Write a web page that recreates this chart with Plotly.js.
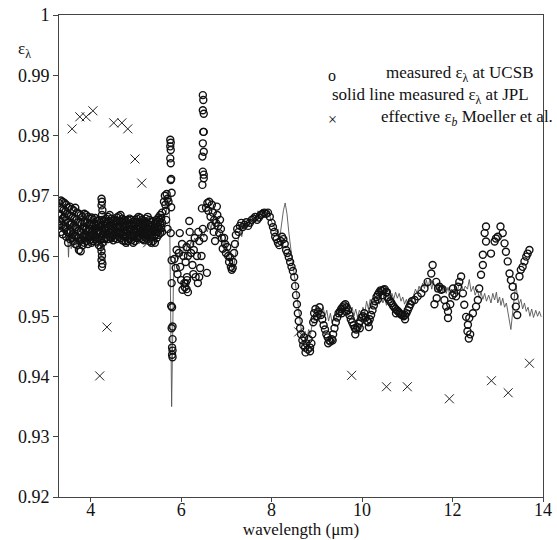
<!DOCTYPE html>
<html><head><meta charset="utf-8">
<script src="https://cdn.plot.ly/plotly-3.0.1.min.js"></script>
<style>body{margin:0;background:#fff}#chart{width:557px;height:540px}</style>
</head><body><div id="chart"></div>
<script>
// JPL measurement (solid line)
const jplX = [3.30,3.33,3.36,3.39,3.42,3.45,3.48,3.51,3.54,3.57,3.60,3.63,3.66,3.69,3.72,3.75,3.78,3.81,3.84,3.87,3.90,3.93,3.96,3.99,4.02,4.05,4.08,4.11,4.14,4.17,4.20,4.23,4.26,4.29,4.32,4.35,4.38,4.41,4.44,4.47,4.50,4.53,4.56,4.59,4.62,4.65,4.68,4.71,4.74,4.77,4.80,4.83,4.86,4.89,4.92,4.95,4.98,5.01,5.04,5.07,5.10,5.13,5.16,5.19,5.22,5.25,5.28,5.31,5.34,5.37,5.40,5.43,5.46,5.49,5.52,5.55,5.58,5.61,5.64,5.67,5.70,5.73,5.75,5.77,5.79,5.81,5.83,5.86,5.90,5.94,5.98,6.02,6.06,6.10,6.14,6.18,6.22,6.26,6.30,6.34,6.38,6.42,6.46,6.50,6.54,6.58,6.62,6.66,6.70,6.74,6.78,6.82,6.86,6.90,6.94,6.98,7.02,7.06,7.10,7.14,7.18,7.22,7.26,7.30,7.34,7.38,7.42,7.46,7.50,7.54,7.58,7.62,7.66,7.70,7.74,7.78,7.82,7.86,7.90,7.94,7.98,8.02,8.06,8.10,8.14,8.18,8.22,8.26,8.30,8.34,8.38,8.42,8.46,8.50,8.54,8.58,8.62,8.66,8.70,8.74,8.78,8.82,8.86,8.90,8.94,8.98,9.02,9.06,9.10,9.14,9.18,9.22,9.26,9.30,9.34,9.38,9.42,9.46,9.50,9.54,9.58,9.62,9.66,9.70,9.74,9.78,9.82,9.86,9.90,9.94,9.98,10.02,10.06,10.10,10.14,10.18,10.22,10.26,10.30,10.34,10.38,10.42,10.46,10.50,10.54,10.58,10.62,10.66,10.70,10.74,10.78,10.82,10.86,10.90,10.94,10.98,11.02,11.06,11.10,11.14,11.18,11.22,11.26,11.30,11.34,11.38,11.42,11.46,11.50,11.54,11.58,11.62,11.66,11.70,11.74,11.78,11.82,11.86,11.90,11.94,11.98,12.02,12.06,12.10,12.14,12.19,12.24,12.28,12.33,12.37,12.41,12.46,12.50,12.55,12.59,12.63,12.67,12.71,12.75,12.80,12.85,12.89,12.93,12.97,13.00,13.04,13.07,13.11,13.15,13.19,13.23,13.27,13.29,13.32,13.36,13.40,13.43,13.47,13.51,13.55,13.59,13.63,13.67,13.71,13.75,13.79,13.84,13.88,13.92,13.96];
const jplY = [0.9665,0.9655,0.9672,0.9640,0.9668,0.9625,0.9660,0.9598,0.9652,0.9612,0.9660,0.9620,0.9655,0.9605,0.9650,0.9618,0.9648,0.9622,0.9652,0.9612,0.9645,0.9625,0.9650,0.9618,0.9648,0.9628,0.9652,0.9620,0.9646,0.9615,0.9640,0.9600,0.9642,0.9622,0.9650,0.9618,0.9648,0.9628,0.9652,0.9622,0.9650,0.9630,0.9655,0.9625,0.9652,0.9632,0.9655,0.9628,0.9650,0.9620,0.9648,0.9615,0.9645,0.9622,0.9648,0.9618,0.9642,0.9625,0.9648,0.9620,0.9645,0.9628,0.9650,0.9622,0.9642,0.9630,0.9648,0.9628,0.9645,0.9632,0.9650,0.9635,0.9655,0.9640,0.9658,0.9645,0.9662,0.9650,0.9668,0.9672,0.9690,0.9700,0.9640,0.9500,0.9350,0.9450,0.9560,0.9590,0.9605,0.9595,0.9610,0.9600,0.9615,0.9605,0.9620,0.9612,0.9625,0.9618,0.9630,0.9622,0.9635,0.9628,0.9640,0.9632,0.9648,0.9640,0.9655,0.9645,0.9660,0.9648,0.9662,0.9650,0.9640,0.9632,0.9618,0.9625,0.9610,0.9598,0.9585,0.9575,0.9590,0.9612,0.9628,0.9640,0.9632,0.9648,0.9645,0.9655,0.9650,0.9658,0.9662,0.9670,0.9662,0.9675,0.9668,0.9678,0.9670,0.9678,0.9668,0.9675,0.9660,0.9655,0.9648,0.9640,0.9645,0.9630,0.9655,0.9675,0.9688,0.9670,0.9640,0.9610,0.9590,0.9570,0.9545,0.9520,0.9495,0.9475,0.9465,0.9475,0.9462,0.9478,0.9470,0.9488,0.9492,0.9505,0.9495,0.9512,0.9498,0.9515,0.9500,0.9510,0.9492,0.9505,0.9488,0.9500,0.9494,0.9512,0.9502,0.9518,0.9505,0.9520,0.9508,0.9522,0.9505,0.9515,0.9500,0.9512,0.9498,0.9510,0.9502,0.9515,0.9505,0.9525,0.9512,0.9528,0.9515,0.9530,0.9518,0.9532,0.9520,0.9535,0.9522,0.9530,0.9518,0.9532,0.9525,0.9538,0.9528,0.9540,0.9530,0.9538,0.9525,0.9532,0.9520,0.9528,0.9518,0.9530,0.9525,0.9535,0.9545,0.9538,0.9550,0.9542,0.9555,0.9546,0.9560,0.9548,0.9562,0.9545,0.9558,0.9540,0.9552,0.9542,0.9555,0.9540,0.9550,0.9538,0.9548,0.9535,0.9545,0.9538,0.9550,0.9540,0.9552,0.9555,0.9542,0.9550,0.9545,0.9561,0.9541,0.9550,0.9535,0.9545,0.9530,0.9540,0.9528,0.9538,0.9525,0.9535,0.9522,0.9538,0.9527,0.9540,0.9522,0.9532,0.9518,0.9530,0.9515,0.9522,0.9505,0.9490,0.9478,0.9500,0.9530,0.9555,0.9535,0.9520,0.9528,0.9512,0.9522,0.9508,0.9515,0.9500,0.9512,0.9498,0.9510,0.9500,0.9508,0.9499];

// UCSB measurement (open circles)
const ucsbX = [3.30,3.30,3.30,3.34,3.34,3.34,3.38,3.38,3.38,3.42,3.42,3.42,3.46,3.46,3.46,3.50,3.50,3.50,3.54,3.54,3.54,3.58,3.58,3.58,3.62,3.62,3.62,3.66,3.66,3.66,3.70,3.70,3.70,3.74,3.74,3.74,3.78,3.78,3.78,3.82,3.82,3.82,3.86,3.86,3.86,3.90,3.90,3.90,3.94,3.94,3.94,3.98,3.98,3.98,4.02,4.02,4.02,4.06,4.06,4.06,4.10,4.10,4.10,4.14,4.14,4.14,4.18,4.18,4.18,4.22,4.22,4.22,4.26,4.26,4.26,4.30,4.30,4.30,4.34,4.34,4.34,4.38,4.38,4.38,4.42,4.42,4.42,4.46,4.46,4.46,4.50,4.50,4.50,4.54,4.54,4.54,4.58,4.58,4.58,4.62,4.62,4.62,4.66,4.66,4.66,4.70,4.70,4.70,4.74,4.74,4.74,4.78,4.78,4.78,4.82,4.82,4.82,4.86,4.86,4.86,4.90,4.90,4.90,4.94,4.94,4.94,4.98,4.98,4.98,5.02,5.02,5.02,5.06,5.06,5.06,5.10,5.10,5.10,5.14,5.14,5.14,5.18,5.18,5.18,5.22,5.22,5.22,5.26,5.26,5.26,5.30,5.30,5.30,5.34,5.34,5.34,5.38,5.38,5.38,5.42,5.42,5.42,5.46,5.46,5.46,5.50,5.50,5.50,5.54,5.54,5.54,5.58,5.58,5.58,
4.24,4.25,4.24,4.26,4.25,4.24,4.25,4.24,4.26,4.25,
5.62,5.64,5.65,5.66,5.68,5.70,5.67,5.70,5.72,
5.76,5.77,5.76,5.77,5.76,5.77,5.78,5.77,5.79,5.78,5.77,5.79,5.79,5.78,5.80,5.79,5.81,5.81,5.80,5.81,5.80,5.81,
5.85,5.88,5.90,5.92,5.95,5.97,5.98,6.00,6.02,6.03,6.05,6.07,6.08,6.10,6.12,6.13,6.15,6.18,6.19,6.20,6.22,6.25,6.27,6.28,6.30,6.32,6.35,6.38,6.40,6.42,6.45,6.48,6.50,6.10,6.12,6.15,6.13,6.37,6.40,6.57,
6.48,6.49,6.48,6.50,6.49,6.50,6.48,6.50,6.47,6.48,6.50,6.50,6.47,6.46,
6.55,6.58,6.60,6.62,6.65,6.66,6.68,6.70,6.72,6.73,6.75,6.77,6.79,6.80,6.82,6.84,6.86,6.88,6.90,6.92,6.95,6.97,6.99,7.02,7.04,7.06,7.08,7.10,7.12,7.14,7.15,7.17,7.19,7.21,7.24,7.27,7.30,7.33,7.36,7.40,7.44,7.48,7.52,7.56,7.60,7.64,7.68,7.72,7.76,7.80,7.84,7.88,7.92,7.96,8.00,8.03,8.06,8.08,8.11,8.14,8.17,8.20,8.23,8.26,8.29,8.32,8.35,8.38,8.41,8.44,8.47,8.50,8.52,8.54,8.56,8.58,8.60,8.63,8.65,8.68,8.70,8.72,8.74,8.77,8.80,8.82,8.85,8.88,8.90,8.92,8.94,8.97,9.00,9.03,9.06,9.09,9.12,9.15,9.18,9.21,9.24,9.27,9.30,9.33,9.36,9.39,9.42,9.45,9.48,9.51,9.54,9.57,9.60,9.63,9.66,9.69,9.72,9.75,9.78,9.81,9.84,9.87,9.90,9.93,9.96,9.99,10.02,10.05,10.08,10.11,10.14,10.17,10.20,10.23,10.26,10.29,10.32,10.35,10.38,10.41,10.44,10.47,10.50,10.53,10.56,10.59,10.62,10.65,10.68,10.71,10.74,10.77,10.80,10.83,10.86,10.89,10.92,10.95,10.98,11.01,11.04,11.07,11.10,
8.75,8.85,8.95,9.25,9.35,9.55,9.65,9.85,9.95,10.15,10.35,10.45,10.55,10.75,10.95,
11.16,11.23,11.31,11.38,11.45,11.53,11.56,11.64,11.68,11.71,11.75,11.82,11.86,11.90,11.90,12.01,12.04,12.08,12.12,12.15,12.19,12.23,12.26,12.30,12.34,12.37,12.45,12.52,12.56,12.59,12.63,12.67,12.67,12.74,12.71,12.74,12.85,12.93,12.96,13.00,13.06,13.11,13.15,13.18,13.22,13.26,13.29,13.33,13.37,13.40,13.43,13.48,13.51,13.55,13.59,13.63,13.66,13.70,
12.33,12.36,12.39,11.60,11.65,11.78,11.95,12.00];
const ucsbY = [0.9688,0.9670,0.9650,0.9692,0.9668,0.9640,0.9690,0.9662,0.9636,0.9688,0.9665,0.9645,0.9685,0.9660,0.9632,0.9680,0.9655,0.9622,0.9682,0.9652,0.9628,0.9678,0.9655,0.9630,0.9676,0.9650,0.9625,0.9680,0.9648,0.9620,0.9672,0.9645,0.9618,0.9670,0.9642,0.9610,0.9668,0.9640,0.9608,0.9665,0.9645,0.9618,0.9670,0.9648,0.9622,0.9668,0.9644,0.9625,0.9665,0.9642,0.9620,0.9662,0.9645,0.9626,0.9664,0.9640,0.9622,0.9660,0.9643,0.9625,0.9663,0.9645,0.9628,0.9658,0.9640,0.9624,0.9660,0.9642,0.9618,0.9655,0.9638,0.9615,0.9660,0.9642,0.9622,0.9658,0.9645,0.9628,0.9662,0.9646,0.9630,0.9665,0.9648,0.9628,0.9668,0.9650,0.9632,0.9662,0.9645,0.9630,0.9658,0.9642,0.9626,0.9660,0.9645,0.9630,0.9664,0.9648,0.9628,0.9666,0.9650,0.9632,0.9668,0.9648,0.9630,0.9662,0.9645,0.9626,0.9660,0.9643,0.9625,0.9658,0.9640,0.9622,0.9660,0.9642,0.9625,0.9662,0.9645,0.9628,0.9660,0.9644,0.9626,0.9657,0.9640,0.9622,0.9660,0.9643,0.9625,0.9662,0.9646,0.9630,0.9665,0.9648,0.9632,0.9663,0.9646,0.9630,0.9660,0.9644,0.9628,0.9658,0.9642,0.9626,0.9662,0.9645,0.9630,0.9665,0.9647,0.9628,0.9660,0.9643,0.9625,0.9656,0.9640,0.9622,0.9658,0.9642,0.9625,0.9655,0.9640,0.9622,0.9660,0.9645,0.9630,0.9664,0.9648,0.9635,0.9668,0.9652,0.9638,0.9672,0.9655,0.9640,
0.9695,0.9690,0.9684,0.9676,0.9668,0.9608,0.9600,0.9593,0.9587,0.9582,
0.9690,0.9700,0.9685,0.9675,0.9703,0.9695,0.9660,0.9645,0.9690,
0.9793,0.9788,0.9782,0.9776,0.9762,0.9754,0.9728,0.9726,0.9705,0.9681,0.9638,0.9593,0.9555,0.9517,0.9515,0.9480,0.9483,0.9462,0.9448,0.9443,0.9436,0.9432,
0.9595,0.9580,0.9610,0.9570,0.9605,0.9638,0.9582,0.9560,0.9620,0.9544,0.9600,0.9555,0.9548,0.9590,0.9615,0.9560,0.9600,0.9658,0.9640,0.9620,0.9605,0.9585,0.9570,0.9610,0.9630,0.9565,0.9600,0.9640,0.9625,0.9580,0.9600,0.9645,0.9630,0.9555,0.9545,0.9540,0.9565,0.9555,0.9565,0.9572,
0.9867,0.9859,0.9842,0.9836,0.9806,0.9806,0.9787,0.9773,0.9765,0.9740,0.9735,0.9729,0.9718,0.9679,
0.9680,0.9688,0.9675,0.9690,0.9665,0.9650,0.9685,0.9672,0.9640,0.9660,0.9625,0.9655,0.9682,0.9668,0.9650,0.9638,0.9660,0.9645,0.9630,0.9612,0.9630,0.9620,0.9605,0.9615,0.9600,0.9590,0.9598,0.9582,0.9577,0.9580,0.9590,0.9605,0.9620,0.9635,0.9645,0.9640,0.9650,0.9655,0.9648,0.9652,0.9656,0.9650,0.9655,0.9660,0.9662,0.9665,0.9660,0.9664,0.9668,0.9670,0.9672,0.9670,0.9672,0.9665,0.9655,0.9648,0.9640,0.9632,0.9628,0.9622,0.9618,0.9625,0.9632,0.9628,0.9620,0.9610,0.9605,0.9598,0.9590,0.9582,0.9575,0.9565,0.9550,0.9535,0.9520,0.9505,0.9492,0.9480,0.9470,0.9460,0.9452,0.9465,0.9448,0.9455,0.9445,0.9462,0.9448,0.9455,0.9470,0.9490,0.9505,0.9512,0.9500,0.9508,0.9515,0.9502,0.9495,0.9485,0.9478,0.9470,0.9465,0.9460,0.9458,0.9462,0.9470,0.9480,0.9490,0.9498,0.9505,0.9508,0.9512,0.9515,0.9518,0.9520,0.9515,0.9510,0.9502,0.9495,0.9490,0.9485,0.9480,0.9478,0.9482,0.9488,0.9492,0.9498,0.9500,0.9505,0.9498,0.9492,0.9490,0.9495,0.9502,0.9510,0.9518,0.9525,0.9532,0.9536,0.9540,0.9543,0.9542,0.9544,0.9545,0.9540,0.9532,0.9528,0.9525,0.9522,0.9518,0.9515,0.9512,0.9510,0.9508,0.9505,0.9503,0.9502,0.9500,0.9502,0.9505,0.9510,0.9515,0.9520,0.9525,
0.9440,0.9442,0.9495,0.9455,0.9460,0.9505,0.9508,0.9470,0.9480,0.9482,0.9528,0.9535,0.9540,0.9505,0.9495,
0.9527,0.9533,0.9538,0.9546,0.9557,0.9571,0.9585,0.9557,0.9546,0.9549,0.9544,0.9527,0.9516,0.9508,0.9497,0.9546,0.9538,0.9533,0.9549,0.9557,0.9566,0.9538,0.9519,0.9499,0.9486,0.9497,0.9505,0.9516,0.9527,0.9546,0.9569,0.9585,0.9602,0.9624,0.9638,0.9649,0.9604,0.9624,0.9629,0.9632,0.9649,0.9638,0.9621,0.9607,0.9591,0.9571,0.9560,0.9549,0.9533,0.9516,0.9502,0.9566,0.9577,0.9582,0.9591,0.9599,0.9604,0.9610,
0.9475,0.9463,0.9470,0.9520,0.9530,0.9545,0.9520,0.9535];

// extra UCSB readings inside the dense 3.3-5.6 µm band
const ucsbBandX = [3.32,3.32,3.36,3.36,3.40,3.40,3.44,3.44,3.48,3.48,3.52,3.52,3.56,3.56,3.60,3.60,3.64,3.64,3.68,3.68,3.72,3.72,3.76,3.76,3.80,3.80,3.84,3.84,3.88,3.88,3.92,3.92,3.96,3.96,4.00,4.00,4.04,4.04,4.08,4.08,4.12,4.12,4.16,4.16,4.20,4.20,4.24,4.24,4.28,4.28,4.32,4.32,4.36,4.36,4.40,4.40,4.44,4.44,4.48,4.48,4.52,4.52,4.56,4.56,4.60,4.60,4.64,4.64,4.68,4.68,4.72,4.72,4.76,4.76,4.80,4.80,4.84,4.84,4.88,4.88,4.92,4.92,4.96,4.96,5.00,5.00,5.04,5.04,5.08,5.08,5.12,5.12,5.16,5.16,5.20,5.20,5.24,5.24,5.28,5.28,5.32,5.32,5.36,5.36,5.40,5.40,5.44,5.44,5.48,5.48,5.52,5.52,5.56,5.56];
const ucsbBandY = [0.9680,0.9658,0.9678,0.9652,0.9676,0.9650,0.9674,0.9648,0.9670,0.9640,0.9668,0.9638,0.9666,0.9640,0.9664,0.9636,0.9662,0.9634,0.9660,0.9632,0.9656,0.9630,0.9655,0.9625,0.9654,0.9628,0.9657,0.9632,0.9656,0.9635,0.9655,0.9632,0.9652,0.9633,0.9654,0.9632,0.9650,0.9634,0.9653,0.9636,0.9650,0.9632,0.9651,0.9630,0.9648,0.9627,0.9650,0.9630,0.9652,0.9636,0.9654,0.9638,0.9656,0.9637,0.9658,0.9640,0.9655,0.9638,0.9650,0.9634,0.9652,0.9636,0.9656,0.9638,0.9658,0.9640,0.9658,0.9639,0.9656,0.9638,0.9652,0.9634,0.9650,0.9632,0.9651,0.9633,0.9653,0.9636,0.9652,0.9635,0.9650,0.9632,0.9651,0.9634,0.9654,0.9638,0.9656,0.9640,0.9655,0.9639,0.9653,0.9637,0.9651,0.9635,0.9653,0.9637,0.9656,0.9638,0.9652,0.9635,0.9648,0.9632,0.9650,0.9633,0.9648,0.9632,0.9652,0.9636,0.9656,0.9640,0.9660,0.9644,0.9663,0.9647];

// Moeller et al. effective emissivity (crosses)
const moelX = [3.59,3.76,3.90,4.05,4.51,4.69,4.82,4.98,5.13,5.26,4.36,4.20,8.60,9.77,10.54,11.00,11.93,12.86,13.23,13.70];
const moelY = [0.9811,0.9831,0.9831,0.9841,0.9821,0.9821,0.9811,0.9761,0.9721,0.9622,0.9482,0.9401,0.9474,0.9402,0.9383,0.9383,0.9363,0.9393,0.9373,0.9422];

const xTicks = [4,6,8,10,12,14];
const yTicks = [0.92,0.93,0.94,0.95,0.96,0.97,0.98,0.99,1];
const yTickText = ['0.92','0.93','0.94','0.95','0.96','0.97','0.98','0.99','1'];

const serif = 'Liberation Serif, Times New Roman, serif';

const traces = [
  {x: jplX, y: jplY, type: 'scatter', mode: 'lines', line: {color: '#555', width: 0.9}, hoverinfo: 'skip'},
  {x: ucsbX.concat(ucsbBandX), y: ucsbY.concat(ucsbBandY), type: 'scatter', mode: 'markers',
   marker: {symbol: 'circle-open', size: 7, color: '#111', line: {width: 1.4, color: '#111'}}},
  {x: moelX, y: moelY, type: 'scatter', mode: 'markers',
   marker: {symbol: 'x-thin-open', size: 9, color: '#222', line: {width: 1, color: '#222'}}}
];

const layout = {
  width: 557, height: 540,
  margin: {l: 59, r: 14, t: 15, b: 43},
  paper_bgcolor: '#fff', plot_bgcolor: '#fff',
  showlegend: false,
  font: {family: serif, color: '#111', size: 18},
  xaxis: {range: [3.3, 14], tickvals: xTicks, ticks: 'outside', ticklen: 4, tickcolor: '#444',
          ticklabelstandoff: -8,
          showline: true, linecolor: '#444', linewidth: 1, mirror: true, showgrid: false, zeroline: false,
          tickfont: {family: serif, size: 18, color: '#111'},
          title: {text: 'wavelength (μm)', font: {family: serif, size: 17, color: '#111'}, standoff: 0}},
  yaxis: {range: [0.92, 1], tickvals: yTicks, ticktext: yTickText, ticks: 'outside', ticklen: 5, tickcolor: '#444',
          showline: true, linecolor: '#444', linewidth: 1, mirror: true, showgrid: false, zeroline: false,
          tickfont: {family: serif, size: 18, color: '#111'}},
  annotations: [
    {xref: 'paper', yref: 'paper', x: -0.072, y: 0.928, text: 'ε<sub>λ</sub>', showarrow: false,
     xanchor: 'center', yanchor: 'middle', font: {family: serif, size: 17, color: '#111'}},
    {xref: 'paper', yref: 'paper', x: (332-59)/484, y: 1-(75-15)/482, text: 'o', showarrow: false,
     xanchor: 'center', yanchor: 'middle', font: {family: serif, size: 16, color: '#111'}},
    {xref: 'paper', yref: 'paper', x: (535-59)/484, y: 1-(74-15)/482, text: 'measured ε<sub>λ</sub> at UCSB', showarrow: false,
     xanchor: 'right', yanchor: 'middle', font: {family: serif, size: 17, color: '#111'}},
    {xref: 'paper', yref: 'paper', x: (531-59)/484, y: 1-(96-15)/482, text: 'solid line measured ε<sub>λ</sub> at JPL', showarrow: false,
     xanchor: 'right', yanchor: 'middle', font: {family: serif, size: 17, color: '#111'}},
    {xref: 'paper', yref: 'paper', x: (332-59)/484, y: 1-(119-15)/482, text: '×', showarrow: false,
     xanchor: 'center', yanchor: 'middle', font: {family: serif, size: 16, color: '#111'}},
    {xref: 'paper', yref: 'paper', x: (555-59)/484, y: 1-(118-15)/482, text: 'effective ε<sub><i>b</i></sub> Moeller et al.', showarrow: false,
     xanchor: 'right', yanchor: 'middle', font: {family: serif, size: 17, color: '#111'}}
  ]
};

Plotly.newPlot('chart', traces, layout, {displayModeBar: false, staticPlot: true});
</script>
</body></html>
